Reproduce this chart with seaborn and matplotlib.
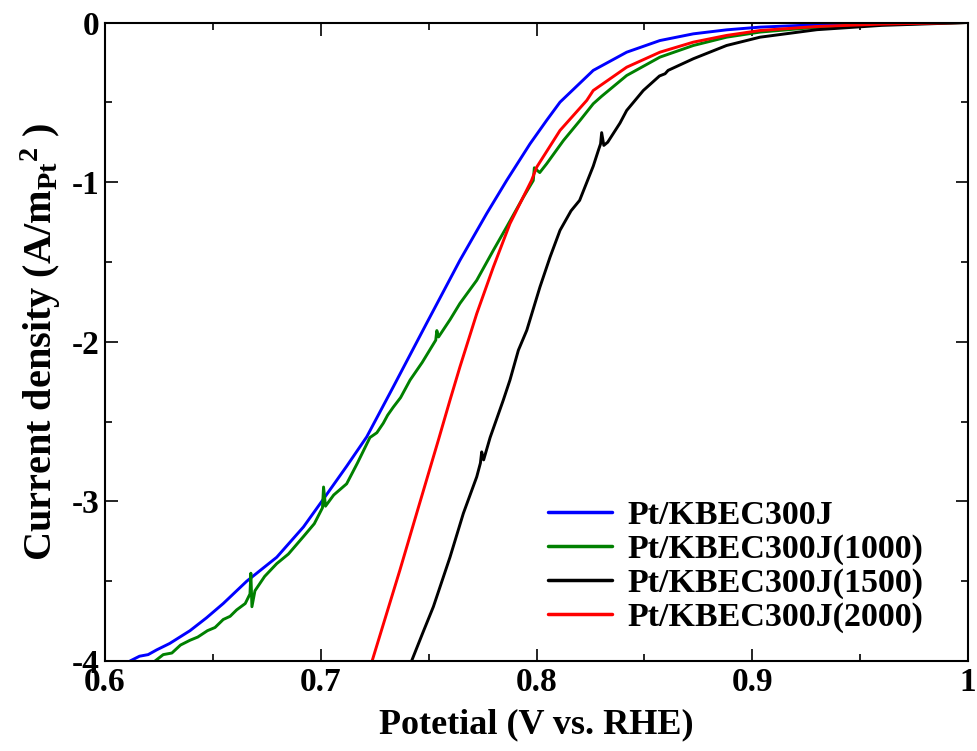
import numpy as np
import pandas as pd
import matplotlib
matplotlib.use("Agg")
import matplotlib.pyplot as plt
import seaborn as sns

# ---------------- data ----------------
labels = ["Pt/KBEC300J", "Pt/KBEC300J(1000)", "Pt/KBEC300J(1500)", "Pt/KBEC300J(2000)"]
colors = ["#0000ff", "#008000", "#000000", "#ff0000"]

blue_x = [0.6116, 0.6160, 0.6200, 0.6240, 0.6300, 0.6394, 0.6470, 0.6548, 0.6657, 0.6796,
          0.6920, 0.7010, 0.7120, 0.7213, 0.7336, 0.7490, 0.7645, 0.7769, 0.7862, 0.7970,
          0.8047, 0.8109, 0.8263, 0.8418, 0.8572, 0.8727, 0.8881, 0.9036, 0.9300, 0.9600, 1.0]
blue_y = [-4.00, -3.97, -3.96, -3.93, -3.89, -3.81, -3.73, -3.64, -3.50, -3.35,
          -3.16, -2.99, -2.78, -2.596, -2.283, -1.886, -1.49, -1.197, -0.989, -0.76,
          -0.613, -0.499, -0.30, -0.186, -0.113, -0.071, -0.046, -0.029, -0.014, -0.005, 0.0]

green_x = [0.6232, 0.6270, 0.6310, 0.6350, 0.6394, 0.6430, 0.6475, 0.6510, 0.6548, 0.6580,
           0.6610, 0.6650, 0.6672, 0.6676, 0.6681, 0.6695, 0.6740, 0.6796, 0.6850, 0.6920,
           0.6970, 0.7008, 0.7013, 0.7022, 0.7060, 0.7120, 0.7170, 0.7228, 0.7260, 0.7290,
           0.7310, 0.7336, 0.7370, 0.7414, 0.7470, 0.7533, 0.7538, 0.7546, 0.7600, 0.7645,
           0.7723, 0.7800, 0.7862, 0.7939, 0.7985, 0.7990, 0.8002, 0.8015, 0.8047, 0.8125,
           0.8202, 0.8263, 0.8302, 0.8418, 0.8572, 0.8727, 0.8881, 0.9036, 0.9300, 0.9600, 1.0]
green_y = [-4.00, -3.96, -3.95, -3.90, -3.87, -3.85, -3.81, -3.79, -3.74, -3.72,
           -3.68, -3.64, -3.58, -3.45, -3.66, -3.56, -3.47, -3.39, -3.33, -3.22,
           -3.14, -3.04, -2.91, -3.03, -2.96, -2.89, -2.76, -2.60, -2.57, -2.51,
           -2.46, -2.41, -2.35, -2.24, -2.13, -1.99, -1.93, -1.97, -1.86, -1.76,
           -1.615, -1.427, -1.28, -1.094, -0.99, -0.91, -0.925, -0.94, -0.885, -0.739,
           -0.613, -0.509, -0.462, -0.332, -0.217, -0.144, -0.092, -0.060, -0.030, -0.012, 0.0]

black_x = [0.7421, 0.7474, 0.7522, 0.7599, 0.7661, 0.7723, 0.7740, 0.7746, 0.7755, 0.7785,
           0.7846, 0.7877, 0.7916, 0.7955, 0.8016, 0.8063, 0.8109, 0.8160, 0.8200, 0.8263,
           0.8287, 0.8297, 0.8302, 0.8312, 0.8330, 0.8387, 0.8418, 0.8495, 0.8570, 0.8596,
           0.8610, 0.8727, 0.8881, 0.9036, 0.9300, 0.9600, 0.9870, 1.0]
black_y = [-4.00, -3.82, -3.66, -3.35, -3.075, -2.846, -2.76, -2.69, -2.74, -2.60,
           -2.366, -2.24, -2.053, -1.928, -1.657, -1.469, -1.302, -1.18, -1.114, -0.90,
           -0.80, -0.76, -0.69, -0.77, -0.75, -0.63, -0.551, -0.426, -0.335, -0.321,
           -0.300, -0.227, -0.144, -0.092, -0.045, -0.018, -0.006, 0.0]

red_x = [0.7238, 0.7367, 0.7450, 0.7545, 0.7599, 0.7645, 0.7723, 0.7800, 0.7877, 0.7977,
         0.8001, 0.8109, 0.8233, 0.8263, 0.8418, 0.8572, 0.8727, 0.8881, 0.9036, 0.9300,
         0.9600, 1.0]
red_y = [-4.00, -3.43, -3.05, -2.617, -2.366, -2.158, -1.824, -1.532, -1.26, -0.989,
         -0.906, -0.676, -0.488, -0.426, -0.280, -0.186, -0.123, -0.081, -0.050, -0.025,
         -0.010, 0.0]

xticks = [0.6, 0.7, 0.8, 0.9, 1.0]
xticklabels = ["0.6", "0.7", "0.8", "0.9", "1"]
yticks = [-4, -3, -2, -1, 0]
yticklabels = ["-4", "-3", "-2", "-1", "0"]

series = [(blue_x, blue_y), (green_x, green_y), (black_x, black_y), (red_x, red_y)]
frames = []
for lab, (xs, ys) in zip(labels, series):
    frames.append(pd.DataFrame({"x": xs, "y": ys, "s": lab}))
df = pd.concat(frames, ignore_index=True)

# ---------------- style ----------------
sns.set_style("ticks")
plt.rcParams["font.family"] = ["Liberation Serif", "DejaVu Serif"]
plt.rcParams["font.weight"] = "bold"
plt.rcParams["text.color"] = "black"
plt.rcParams["axes.labelcolor"] = "black"
plt.rcParams["xtick.color"] = "black"
plt.rcParams["ytick.color"] = "black"
plt.rcParams["mathtext.fontset"] = "custom"
plt.rcParams["mathtext.rm"] = "Liberation Serif:bold"
plt.rcParams["mathtext.bf"] = "Liberation Serif:bold"
plt.rcParams["mathtext.it"] = "Liberation Serif:bold:italic"

fig = plt.figure(figsize=(9.78, 7.51), dpi=100)
ax = fig.add_axes([105 / 978, 1 - 661 / 751, 863 / 978, (661 - 22.5) / 751])

sns.lineplot(data=df, x="x", y="y", hue="s", hue_order=labels,
             palette=dict(zip(labels, colors)), sort=False, estimator=None,
             units="s", linewidth=2.1, ax=ax)

ax.set_xlim(0.6, 1.0)
ax.set_ylim(-4, 0)
ax.set_xticks(xticks)
ax.set_xticklabels(xticklabels)
ax.set_yticks(yticks)
ax.set_yticklabels(yticklabels)
ax.set_xticks([0.65, 0.75, 0.85, 0.95], minor=True)
ax.set_yticks([-3.5, -2.5, -1.5, -0.5], minor=True)
ax.tick_params(which="both", direction="in", top=True, right=True, width=1.2,
               colors="black", labelcolor="black")
ax.tick_params(which="major", length=9, labelsize=24, pad=4)
ax.tick_params(which="minor", length=5)
for lab in ax.get_xticklabels() + ax.get_yticklabels():
    lab.set_fontweight("bold")
    lab.set_color("black")
for sp in ax.spines.values():
    sp.set_linewidth(1.5)
    sp.set_color("black")

ax.set_xlabel("Potetial (V vs. RHE)", fontsize=26, fontweight="bold", labelpad=8,
              color="black")
ax.set_ylabel("Current density (A/m$_{\\mathrm{Pt}}$$^{\\mathrm{2}}$ )",
              fontsize=29, fontweight="bold", labelpad=6, color="black")

leg = ax.legend(loc="upper left", bbox_to_anchor=(0.513, 0.252), frameon=False,
                fontsize=24.5, handlelength=1.9, handletextpad=0.45, labelspacing=0.08,
                borderpad=0, borderaxespad=0)
for t in leg.get_texts():
    t.set_fontweight("bold")
    t.set_color("black")
for h in leg.get_lines():
    h.set_linewidth(2.5)

fig.savefig("out.png", dpi=100)
